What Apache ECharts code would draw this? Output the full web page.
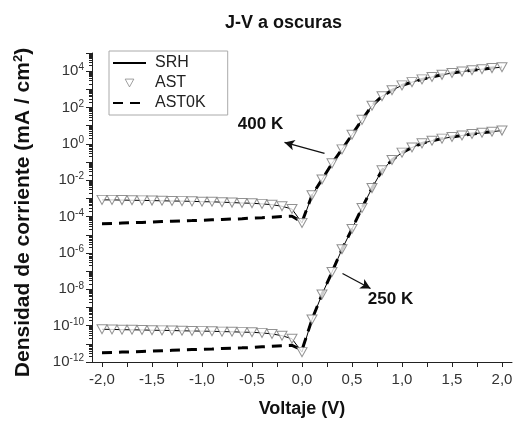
<!DOCTYPE html>
<html>
<head>
<meta charset="utf-8">
<script src="https://cdn.jsdelivr.net/npm/echarts@6/dist/echarts.min.js"></script>
<style>
  html, body { margin: 0; padding: 0; background: #fff; }
  #chart { width: 516px; height: 425px; }
</style>
</head>
<body>
<div id="chart"></div>
<script>
// voltage points (V)
const voltage = [-2.0, -1.9, -1.8, -1.7, -1.6, -1.5, -1.4, -1.3, -1.2, -1.1, -1.0,
  -0.9, -0.8, -0.7, -0.6, -0.5, -0.4, -0.3, -0.2, -0.1, 0.0,
  0.1, 0.2, 0.3, 0.4, 0.5, 0.6, 0.7, 0.8, 0.9, 1.0,
  1.1, 1.2, 1.3, 1.4, 1.5, 1.6, 1.7, 1.8, 1.9, 2.0]

// current density (mA/cm2), 400 K
const ast400 = [8.3e-4, 8.3e-4, 8.1e-4, 7.9e-4, 7.8e-4, 7.6e-4, 7.4e-4, 7.2e-4, 7.1e-4, 6.9e-4, 6.6e-4,
  6.5e-4, 6.2e-4, 5.9e-4, 5.6e-4, 5.4e-4, 5.0e-4, 4.5e-4, 3.7e-4, 2.6e-4, 4.5e-5,
  1.5e-3, 1.1e-2, 8.5e-2, 0.50, 3.2, 21, 126, 420, 890, 1660,
  2500, 3550, 4800, 6300, 7900, 9500, 11200, 12900, 14800, 16600]
const srh400 = [8.3e-4, 8.3e-4, 8.1e-4, 7.9e-4, 7.8e-4, 7.6e-4, 7.4e-4, 7.2e-4, 7.1e-4, 6.9e-4, 6.6e-4,
  6.5e-4, 6.2e-4, 5.9e-4, 5.6e-4, 5.4e-4, 5.0e-4, 4.5e-4, 3.7e-4, 2.6e-4, 4.5e-5,
  1.5e-3, 1.1e-2, 8.5e-2, 0.50, 3.2, 21, 126, 420, 890, 1660,
  2500, 3550, 4800, 6300, 7900, 9500, 11200, 12900, 14800, 16600]
const ast0k400 = [4.0e-5, 4.2e-5, 4.4e-5, 4.6e-5, 4.8e-5, 5.0e-5, 5.3e-5, 5.5e-5, 5.8e-5, 6.0e-5, 6.3e-5,
  6.6e-5, 6.9e-5, 7.3e-5, 7.6e-5, 8.3e-5, 8.7e-5, 9.3e-5, 1.0e-4, 1.05e-4, 5.0e-5,
  1.5e-3, 1.1e-2, 8.5e-2, 0.50, 3.2, 21, 126, 420, 890, 1660,
  2500, 3550, 4800, 6300, 7900, 9500, 11200, 12900, 14800, 16600]

// current density (mA/cm2), 250 K
const ast250 = [6.3e-11, 6.2e-11, 6.0e-11, 5.9e-11, 5.8e-11, 5.6e-11, 5.5e-11, 5.4e-11, 5.2e-11, 5.1e-11, 5.0e-11,
  4.9e-11, 4.7e-11, 4.6e-11, 4.4e-11, 4.3e-11, 4.0e-11, 3.5e-11, 2.8e-11, 1.9e-11, 3.5e-12,
  2.2e-10, 5.2e-9, 8.9e-8, 1.6e-6, 2.1e-5, 3.0e-4, 3.7e-3, 3.5e-2, 0.13, 0.33,
  0.63, 1.07, 1.48, 1.95, 2.4, 2.9, 3.5, 4.1, 4.7, 5.4]
const srh250 = [6.3e-11, 6.2e-11, 6.0e-11, 5.9e-11, 5.8e-11, 5.6e-11, 5.5e-11, 5.4e-11, 5.2e-11, 5.1e-11, 5.0e-11,
  4.9e-11, 4.7e-11, 4.6e-11, 4.4e-11, 4.3e-11, 4.0e-11, 3.5e-11, 2.8e-11, 1.9e-11, 3.5e-12,
  2.2e-10, 5.2e-9, 8.9e-8, 1.6e-6, 2.1e-5, 3.0e-4, 3.7e-3, 3.5e-2, 0.13, 0.33,
  0.63, 1.07, 1.48, 1.95, 2.4, 2.9, 3.5, 4.1, 4.7, 5.4]
const ast0k250 = [3.2e-12, 3.3e-12, 3.5e-12, 3.6e-12, 3.8e-12, 4.0e-12, 4.2e-12, 4.4e-12, 4.6e-12, 4.8e-12, 5.0e-12,
  5.2e-12, 5.5e-12, 5.8e-12, 6.0e-12, 6.3e-12, 6.8e-12, 7.3e-12, 7.9e-12, 8.3e-12, 4.5e-12,
  2.2e-10, 5.2e-9, 8.9e-8, 1.6e-6, 2.1e-5, 3.0e-4, 3.7e-3, 3.5e-2, 0.13, 0.33,
  0.63, 1.07, 1.48, 1.95, 2.4, 2.9, 3.5, 4.1, 4.7, 5.4]

// axis ticks
const xLabels = [-2.0, -1.5, -1.0, -0.5, 0.0, 0.5, 1.0, 1.5, 2.0]
const xTicks = [-2.0, -1.75, -1.5, -1.25, -1.0, -0.75, -0.5, -0.25, 0.0, 0.25, 0.5, 0.75, 1.0, 1.25, 1.5, 1.75, 2.0]
const yLabels = [1e-12, 1e-10, 1e-8, 1e-6, 1e-4, 1e-2, 1, 1e2, 1e4]

// annotations: [label, [V, J]] and arrows [[V, J] from, [V, J] to]
const tempLabels = [['400 K', [-0.415, 12.6]], ['250 K', [0.885, 2.8e-9]]]
const tempArrows = [[[0.225, 0.30], [-0.175, 1.2]], [[0.405, 7.4e-8], [0.685, 1.1e-8]]]

const font = '"Liberation Sans", Arial, sans-serif'

const yTicks = []
for (let e = -12; e <= 5; e++) yTicks.push(Math.pow(10, e))
const yMinor = []
for (let e = -12; e <= 4; e++) for (let k = 2; k <= 9; k++) yMinor.push(k * Math.pow(10, e))

const pairs = (ys) => voltage.map((v, i) => [v, ys[i]])
const downTriangle = 'path://M0,0 L10,0 L5,9 Z'
// same triangle, padded box so the legend draws it small
const legendTriangle = 'path://M-14,-3 M24,12 M0,0 L10,0 L5,9 Z'

function srhSeries(ys) {
  return {
    name: 'SRH', type: 'line', data: pairs(ys), symbol: 'none',
    itemStyle: { color: '#000' },
    lineStyle: { color: '#000', width: 1 }, z: 2
  }
}
function astSeries(ys) {
  return {
    name: 'AST', type: 'scatter', data: pairs(ys), symbol: downTriangle, symbolSize: [10, 9],
    itemStyle: { color: '#fff', borderColor: '#777', borderWidth: 1 }, z: 4
  }
}
function ast0kSeries(ys) {
  return {
    name: 'AST0K', type: 'line', data: pairs(ys), symbol: 'none',
    itemStyle: { color: '#000' },
    lineStyle: { color: '#000', width: 3, type: [10, 7] }, z: 3
  }
}

const annotate = {
  name: 'annot', type: 'line', data: [], symbol: 'none', silent: true,
  markPoint: {
    symbol: 'circle', symbolSize: 0,
    label: { show: true, position: 'inside', fontFamily: font, fontSize: 17, fontWeight: 'bold', color: '#111', formatter: (p) => p.name },
    data: tempLabels.map(([text, c]) => ({ name: text, coord: c }))
  },
  markLine: {
    symbol: ['none', 'arrow'], symbolSize: [8, 10], silent: true,
    label: { show: false },
    lineStyle: { color: '#111', width: 1.3, type: 'solid' },
    data: tempArrows.map(([a, b]) => [{ coord: a }, { coord: b }])
  }
}

const chart = echarts.init(document.getElementById('chart'))
chart.setOption({
  animation: false,
  backgroundColor: '#fff',
  title: {
    text: 'J-V a oscuras', left: 220, top: 9,
    textStyle: { fontFamily: font, fontSize: 18, fontWeight: 'bold', color: '#111' }
  },
  legend: {
    left: 109, top: 51, orient: 'vertical',
    data: [
      { name: 'SRH', itemStyle: { opacity: 0 } },
      { name: 'AST', icon: legendTriangle, itemStyle: { color: '#fff', borderColor: '#888', borderWidth: 1 } },
      { name: 'AST0K', itemStyle: { opacity: 0 } }
    ],
    itemWidth: 33, itemHeight: 14, itemGap: 4,
    padding: [4, 22, 4, 3],
    borderColor: '#aaa', borderWidth: 1,
    textStyle: { fontFamily: font, fontSize: 16, color: '#222', padding: [0, 0, 0, 4] }
  },
  grid: { left: 92, right: 4, top: 53, bottom: 63 },
  xAxis: {
    type: 'value', min: -2.1, max: 2.1,
    name: 'Voltaje (V)', nameLocation: 'middle', nameGap: 38,
    nameTextStyle: { fontFamily: font, fontSize: 18, fontWeight: 'bold', color: '#111' },
    axisLine: { onZero: false, lineStyle: { color: '#222', width: 1 } },
    axisTick: { customValues: xTicks, length: 5, inside: false, lineStyle: { color: '#222' } },
    axisLabel: {
      customValues: xLabels, margin: 10, fontFamily: font, fontSize: 15, color: '#333',
      formatter: (v) => v.toFixed(1).replace('.', ',')
    },
    splitLine: { show: false }
  },
  yAxis: [{
    type: 'log', logBase: 10, min: 1e-12, max: 1e5,
    name: 'Densidad de corriente (mA / cm{sup|2})', nameLocation: 'middle', nameGap: 57, nameRotate: 90,
    nameTextStyle: {
      fontFamily: font, fontSize: 21, fontWeight: 'bold', color: '#111', padding: [0, 10, 0, 0],
      rich: { sup: { fontFamily: font, fontSize: 13, fontWeight: 'bold', color: '#111', padding: [0, 0, 10, 0] } }
    },
    axisLine: { show: true, onZero: false, lineStyle: { color: '#222', width: 1 } },
    axisTick: { customValues: yTicks, length: 6, lineStyle: { color: '#222' } },
    axisLabel: {
      customValues: yLabels, margin: 8, color: '#333',
      formatter: (v) => '{b|10}{sup|' + Math.round(Math.log10(v)) + '}',
      rich: {
        b: { fontFamily: font, fontSize: 15, color: '#333' },
        sup: { fontFamily: font, fontSize: 10, color: '#333', padding: [0, 0, 7, 0] }
      }
    },
    splitLine: { show: false }
  }, {
    type: 'log', logBase: 10, min: 1e-12, max: 1e5, position: 'left',
    axisLine: { show: false, onZero: false },
    axisTick: { customValues: yMinor, length: 3, lineStyle: { color: '#222' } },
    axisLabel: { show: false },
    splitLine: { show: false }
  }],
  series: [
    srhSeries(srh400), srhSeries(srh250),
    ast0kSeries(ast0k400), ast0kSeries(ast0k250),
    astSeries(ast400), astSeries(ast250),
    annotate
  ]
})
</script>
</body>
</html>
